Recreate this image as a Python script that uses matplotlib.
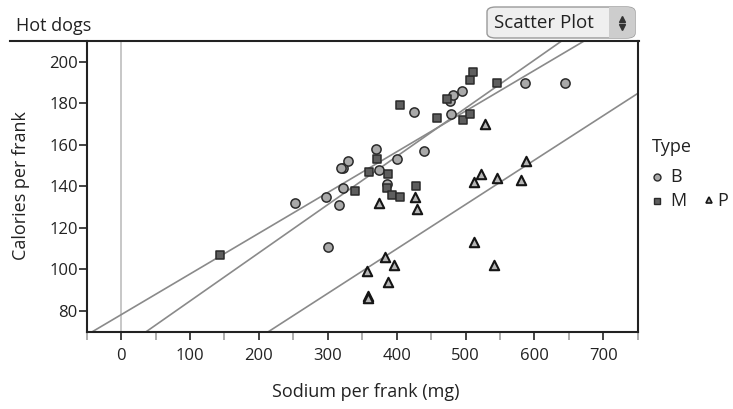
import numpy as np
import matplotlib
matplotlib.use("Agg")
import matplotlib.pyplot as plt
from matplotlib.lines import Line2D
from matplotlib.patches import FancyBboxPatch, Rectangle

plt.rcParams['font.family'] = ['Open Sans', 'DejaVu Sans']

# hot dog data (sodium mg, calories) by type
beef_sodium = [495, 477, 425, 322, 482, 587, 370, 322, 479, 375, 330, 300, 386, 401, 645, 440, 317, 319, 298, 253]
beef_cal = [186, 181, 176, 149, 184, 190, 158, 139, 175, 148, 152, 111, 141, 153, 190, 157, 131, 149, 135, 132]
meat_sodium = [458, 506, 473, 545, 496, 360, 387, 386, 507, 393, 405, 372, 144, 511, 405, 428, 339]
meat_cal = [173, 191, 182, 190, 172, 147, 146, 139, 175, 136, 179, 153, 107, 195, 135, 140, 138]
poultry_sodium = [430, 375, 396, 383, 387, 542, 359, 357, 528, 513, 426, 513, 358, 581, 588, 522, 545]
poultry_cal = [129, 132, 102, 106, 94, 102, 87, 99, 170, 113, 135, 142, 86, 143, 152, 146, 144]

x_ticks = [0, 100, 200, 300, 400, 500, 600, 700]
y_ticks = [80, 100, 120, 140, 160, 180, 200]

W, H = 733, 409
fig = plt.figure(figsize=(W / 100, H / 100), dpi=100)


def fx(px):
    return px / W


def fy(py):
    return 1 - py / H


ax = fig.add_axes([fx(86.7), fy(331.7), fx(637.7) - fx(86.7), fy(41) - fy(331.7)])
ax.set_xlim(-50, 750)
ax.set_ylim(70, 210)

# vertical reference line at x=0
ax.axvline(0, color='#b8b8b8', lw=1.1, zorder=1)

# least squares lines per type
xs = np.array([-50, 750])
for sx, cy in [(beef_sodium, beef_cal), (meat_sodium, meat_cal), (poultry_sodium, poultry_cal)]:
    m, b = np.polyfit(sx, cy, 1)
    ax.plot(xs, m * xs + b, color='#8a8a8a', lw=1.2, zorder=2)

ax.scatter(beef_sodium, beef_cal, s=44, marker='o', facecolor='#a9a9a9', edgecolor='#2a2a2a', linewidths=1.1, zorder=3)
ax.scatter(meat_sodium, meat_cal, s=38, marker='s', facecolor='#5e5e5e', edgecolor='#2a2a2a', linewidths=1.1, zorder=3)
ax.scatter(poultry_sodium, poultry_cal, s=46, marker='^', facecolor='#b5b5b5', edgecolor='#151515', linewidths=1.5, zorder=3)

for side in ['left', 'bottom', 'right']:
    ax.spines[side].set_color('#222222')
    ax.spines[side].set_linewidth(1.5)
ax.spines['top'].set_visible(False)

ax.set_xticks(x_ticks)
ax.set_xticks(np.arange(-50, 751, 100), minor=True)
ax.set_yticks(y_ticks)
ax.tick_params(axis='x', which='major', direction='out', length=6, width=1.2, color='#222222',
               labelsize=12, pad=6, labelcolor='#222222')
ax.tick_params(axis='x', which='minor', direction='out', length=6, width=1.2, color='#a0a0a0')
ax.tick_params(axis='y', which='major', direction='out', length=5.5, width=1.2, color='#222222',
               labelsize=12, pad=1, labelcolor='#222222')

# header line across the top
fig.add_artist(Line2D([fx(10), fx(638.5)], [fy(41), fy(41)], color='#222222', lw=1.5))
fig.text(fx(16), fy(31), 'Hot dogs', fontsize=13, color='#222222', va='baseline', ha='left')

# axis labels
fig.text(fx(21), fy(186), 'Calories per frank', rotation=90, fontsize=13, color='#222222',
         ha='center', va='center')
fig.text(fx(366), fy(392), 'Sodium per frank (mg)', fontsize=13, color='#222222',
         ha='center', va='center')

# "Scatter Plot" button
btn = FancyBboxPatch((fx(487), fy(38)), fx(635) - fx(487), fy(7) - fy(38),
                     boxstyle='round,pad=0,rounding_size=0.012', transform=fig.transFigure,
                     facecolor='#efefef', edgecolor='#9a9a9a', lw=1.0)
fig.add_artist(btn)
shade = Rectangle((fx(609), fy(38)), fx(635) - fx(609), fy(7) - fy(38), transform=fig.transFigure,
                  facecolor='#cdcdcd', edgecolor='none')
fig.add_artist(shade)
shade.set_clip_path(btn)
fig.text(fx(494), fy(22.5), 'Scatter Plot', fontsize=13.5, color='#222222', ha='left', va='center')
fig.add_artist(Line2D([fx(622)], [fy(18.5)], marker='^', markersize=4.5, color='#333333', lw=0))
fig.add_artist(Line2D([fx(622)], [fy(27)], marker='v', markersize=4.5, color='#333333', lw=0))

# legend
fig.text(fx(652), fy(147), 'Type', fontsize=13, color='#222222', ha='left', va='center')
fig.add_artist(Line2D([fx(657)], [fy(177)], marker='o', markersize=5, markerfacecolor='#a9a9a9',
                      markeredgecolor='#2a2a2a', markeredgewidth=1, lw=0))
fig.text(fx(670), fy(177), 'B', fontsize=13, color='#222222', ha='left', va='center')
fig.add_artist(Line2D([fx(657)], [fy(201)], marker='s', markersize=4.5, markerfacecolor='#5e5e5e',
                      markeredgecolor='#2a2a2a', markeredgewidth=1, lw=0))
fig.text(fx(670), fy(201), 'M', fontsize=13, color='#222222', ha='left', va='center')
fig.add_artist(Line2D([fx(709)], [fy(200)], marker='^', markersize=5, markerfacecolor='#b5b5b5',
                      markeredgecolor='#151515', markeredgewidth=1.2, lw=0))
fig.text(fx(717), fy(201), 'P', fontsize=13, color='#222222', ha='left', va='center')

fig.savefig('out.png', dpi=100)
